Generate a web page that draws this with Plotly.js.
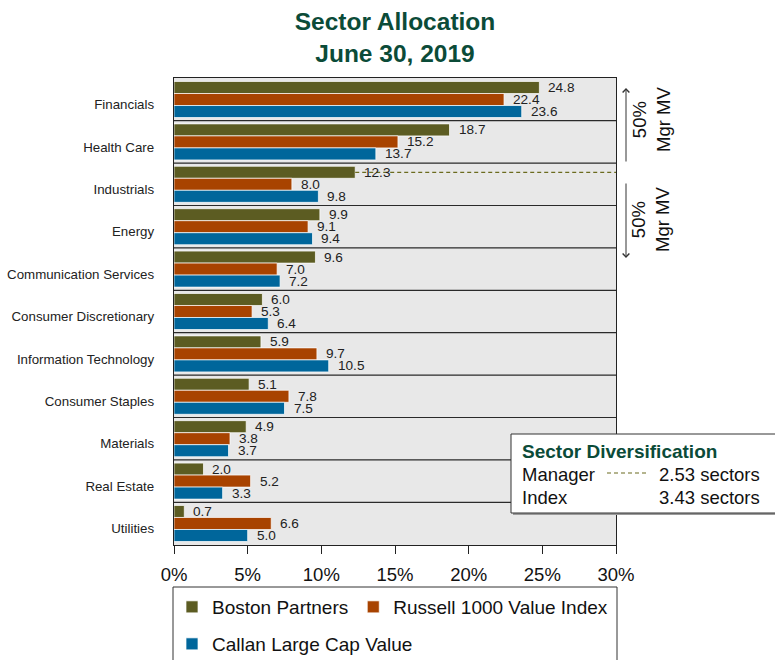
<!DOCTYPE html>
<html>
<head>
<meta charset="utf-8">
<script src="https://cdn.plot.ly/plotly-3.0.1.min.js"></script>
<style>html,body{margin:0;padding:0;background:#fff;}#chart{width:775px;height:660px;}</style>
</head>
<body>
<div id="chart"></div>
<script>
const categories = ["Financials","Health Care","Industrials","Energy","Communication Services","Consumer Discretionary","Information Technology","Consumer Staples","Materials","Real Estate","Utilities"];
const bostonPartners = [24.8,18.7,12.3,9.9,9.6,6.0,5.9,5.1,4.9,2.0,0.7];
const russell1000Value = [22.4,15.2,8.0,9.1,7.0,5.3,9.7,7.8,3.8,5.2,6.6];
const callanLargeCapValue = [23.6,13.7,9.8,9.4,7.2,6.4,10.5,7.5,3.7,3.3,5.0];
const seriesNames = ["Boston Partners","Russell 1000 Value Index","Callan Large Cap Value"];
const xTickVals = [0,5,10,15,20,25,30];
const xTickText = xTickVals.map(v => v + "%");
const diversification = {manager: "2.53 sectors", index: "3.43 sectors"};
const dashedCategory = "Industrials";

const colors = ["#5c5c22","#a84300","#00669b"];
const font = "Liberation Sans, Arial, sans-serif";
const BARGAP = 0.15;
const seriesValues = [bostonPartners, russell1000Value, callanLargeCapValue];

function barTrace(name, vals, color, legendId){
  return {
    type: "bar", orientation: "h", name: name,
    y: categories, x: vals,
    marker: {color: color, line: {color: "rgba(255,255,255,0.7)", width: 1}},
    hoverinfo: "x+name", legend: legendId
  };
}
const data = [
  barTrace(seriesNames[0], bostonPartners, colors[0], "legend"),
  barTrace(seriesNames[1], russell1000Value, colors[1], "legend"),
  barTrace(seriesNames[2], callanLargeCapValue, colors[2], "legend2")
];

// geometry helpers (pixels -> paper)
const L = 174, R = 616, T = 78, B = 545;
const px = x => (x - L) / (R - L);
const py = y => (B - y) / (B - T);

const barW = (1 - BARGAP) / 3;
const offsetOf = k => -(1 - BARGAP) / 2 + barW * (k + 0.5);

const shapes = [];
// category separators
for (let i = 0; i < categories.length - 1; i++) {
  shapes.push({type: "line", xref: "paper", yref: "y", x0: 0, x1: 1, y0: i + 0.5, y1: i + 0.5,
    line: {color: "#2a2a2a", width: 1.2}, layer: "above"});
}
// dashed reference line at manager's Industrials bar
const di = categories.indexOf(dashedCategory);
shapes.push({type: "line", xref: "x", yref: "y", x0: bostonPartners[di], x1: xTickVals[xTickVals.length-1],
  y0: di + offsetOf(0), y1: di + offsetOf(0), line: {color: "#6b6b1e", width: 1.2, dash: "4px,3px"}});
// diversification box (shadow + box)
shapes.push({type: "rect", xref: "paper", yref: "paper", x0: px(513), x1: px(790), y0: py(515), y1: py(436),
  line: {width: 0}, fillcolor: "#9a9a9a"});
shapes.push({type: "rect", xref: "paper", yref: "paper", x0: px(511), x1: px(790), y0: py(513), y1: py(434),
  line: {color: "#333", width: 1}, fillcolor: "#ffffff"});
shapes.push({type: "line", xref: "paper", yref: "paper", x0: px(607), x1: px(647), y0: py(473), y1: py(473),
  line: {color: "#6b6b1e", width: 1.2, dash: "4px,3px"}});
// legend box
shapes.push({type: "rect", xref: "paper", yref: "paper", x0: px(173), x1: px(617), y0: py(700), y1: py(587),
  line: {color: "#333", width: 1}, fillcolor: "rgba(0,0,0,0)"});

const annotations = [
  // arrows
  {xref: "paper", yref: "paper", x: px(626), y: py(88), ax: 0, ay: 75, text: "", showarrow: true,
   arrowhead: 4, arrowsize: 1.3, arrowwidth: 1, arrowcolor: "#333", standoff: 0},
  {xref: "paper", yref: "paper", x: px(626), y: py(258), ax: 0, ay: -76, text: "", showarrow: true,
   arrowhead: 4, arrowsize: 1.3, arrowwidth: 1, arrowcolor: "#333", standoff: 0},
  {xref: "paper", yref: "paper", x: px(651), y: py(120), xanchor: "center", yanchor: "middle",
   text: "50%<br>Mgr MV", showarrow: false, textangle: -90, font: {family: font, size: 18.5, color: "#111"}},
  {xref: "paper", yref: "paper", x: px(651), y: py(220), xanchor: "center", yanchor: "middle",
   text: "50%<br>Mgr MV", showarrow: false, textangle: -90, font: {family: font, size: 18.5, color: "#111"}},
  // diversification box text
  {xref: "paper", yref: "paper", x: px(520), y: py(451), xanchor: "left", yanchor: "middle", showarrow: false,
   text: "<b>Sector Diversification</b>", font: {family: font, size: 19, color: "#0b4b38"}},
  {xref: "paper", yref: "paper", x: px(520), y: py(474), xanchor: "left", yanchor: "middle", showarrow: false,
   text: "Manager", font: {family: font, size: 18.5, color: "#111"}},
  {xref: "paper", yref: "paper", x: px(657), y: py(474), xanchor: "left", yanchor: "middle", showarrow: false,
   text: diversification.manager, font: {family: font, size: 18.5, color: "#111"}},
  {xref: "paper", yref: "paper", x: px(520), y: py(497), xanchor: "left", yanchor: "middle", showarrow: false,
   text: "Index", font: {family: font, size: 18.5, color: "#111"}},
  {xref: "paper", yref: "paper", x: px(657), y: py(497), xanchor: "left", yanchor: "middle", showarrow: false,
   text: diversification.index, font: {family: font, size: 18.5, color: "#111"}}
];
// value labels placed at the end of each bar through the axes
seriesValues.forEach((vals, k) => {
  vals.forEach((v, i) => {
    annotations.push({xref: "x", yref: "y", x: v, y: i + offsetOf(k), xanchor: "left", yanchor: "middle",
      xshift: 7, showarrow: false, text: v.toFixed(1), font: {family: font, size: 13.6, color: "#222"}});
  });
});

const layout = {
  width: 775, height: 660,
  margin: {l: L, r: 775 - R, t: T, b: 660 - B, pad: 0, autoexpand: false},
  paper_bgcolor: "#ffffff", plot_bgcolor: "#e8e8e8",
  font: {family: font, color: "#111"},
  title: {text: "<b>Sector Allocation<br>June 30, 2019</b>", x: 0.5, xref: "paper", xanchor: "center",
    y: 1 - 30/660, yref: "container", yanchor: "middle",
    font: {family: font, size: 24.5, color: "#0b4b38"}},
  barmode: "group", bargap: BARGAP, bargroupgap: 0,
  xaxis: {range: [0, 30], tickvals: xTickVals, ticktext: xTickText, ticks: "outside", ticklen: 8, tickwidth: 1,
    tickcolor: "#222", showgrid: false, zeroline: false, showline: true, mirror: true, linecolor: "#222",
    linewidth: 1.2, ticklabelstandoff: 5, tickfont: {family: font, size: 18.5, color: "#111"}, fixedrange: true},
  yaxis: {type: "category", autorange: "reversed", ticks: "", showgrid: false, zeroline: false,
    showline: true, mirror: true, linecolor: "#222", linewidth: 1.2, ticklabelstandoff: 16, ticklabelshift: -5,
    tickfont: {family: font, size: 13.3, color: "#222"}, fixedrange: true},
  legend: {orientation: "h", x: px(172), xanchor: "left", y: py(607), yanchor: "middle",
    bgcolor: "rgba(0,0,0,0)", borderwidth: 0, font: {family: font, size: 19, color: "#111"}},
  legend2: {orientation: "h", x: px(172), xanchor: "left", y: py(644), yanchor: "middle",
    bgcolor: "rgba(0,0,0,0)", borderwidth: 0, font: {family: font, size: 19, color: "#111"}},
  shapes: shapes, annotations: annotations, showlegend: true
};

Plotly.newPlot("chart", data, layout, {displayModeBar: false, staticPlot: true});
</script>
</body>
</html>
